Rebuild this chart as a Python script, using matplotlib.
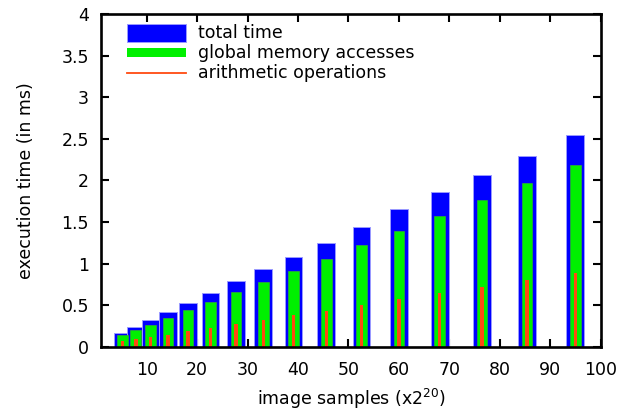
#!/usr/bin/env python3
"""
执行时间柱状图 (total / global memory / arithmetic)
"""

import matplotlib
matplotlib.use('Agg')
import matplotlib.pyplot as plt
from matplotlib.patches import Rectangle
from matplotlib.lines import Line2D
from matplotlib.ticker import MultipleLocator, FormatStrFormatter

plt.rcParams['font.family'] = ['DejaVu Sans']
plt.rcParams['font.size'] = 12.5

# 数据 (image samples x2^20, ms)
samples = [5.2, 7.8, 10.7, 14.2, 18.2, 22.6, 27.7, 33.1,
           39.1, 45.6, 52.6, 60.0, 68.1, 76.5, 85.4, 95.0]
total_time = [0.17, 0.235, 0.32, 0.415, 0.53, 0.645, 0.785, 0.93,
              1.08, 1.25, 1.44, 1.65, 1.855, 2.065, 2.29, 2.545]
memory_time = [0.14, 0.20, 0.265, 0.35, 0.44, 0.54, 0.657, 0.774,
               0.912, 1.06, 1.22, 1.39, 1.575, 1.76, 1.967, 2.18]
arith_time = [0.065, 0.089, 0.113, 0.144, 0.185, 0.229, 0.273, 0.325,
              0.377, 0.433, 0.497, 0.57, 0.64, 0.72, 0.80, 0.89]

labels = ['total time', 'global memory accesses', 'arithmetic operations']
BLUE = '#0000ff'
GREEN = '#00f000'
RED = '#ff4a10'

fig = plt.figure(figsize=(6.21, 4.13), dpi=100)
ax = fig.add_axes([0.1634, 0.1605, 0.8036, 0.8056])

ax.bar(samples, total_time, width=3.5, color=BLUE, edgecolor='#9a9aff',
       linewidth=0.7, zorder=1)
ax.bar(samples, memory_time, width=2.1, color=GREEN, edgecolor='#30b030',
       linewidth=0.5, zorder=1.1)
ax.bar(samples, arith_time, width=0.7, color=RED, linewidth=0, zorder=1.2)

ax.set_xlim(1, 100)
ax.set_ylim(0, 4)
ax.xaxis.set_major_locator(MultipleLocator(10))
ax.yaxis.set_major_locator(MultipleLocator(0.5))
ax.yaxis.set_major_formatter(FormatStrFormatter('%g'))
ax.set_axisbelow(True)

ax.tick_params(direction='in', length=6, width=1.5, top=True, right=True,
               labelsize=12.5)
ax.tick_params(axis='x', pad=10)
ax.tick_params(axis='y', pad=9)
for sp in ax.spines.values():
    sp.set_linewidth(1.9)
    sp.set_zorder(3)

ax.set_xlabel('image samples (x2$^{20}$)', labelpad=6)
ax.set_ylabel('execution time (in ms)', labelpad=19)

# 图例 (手动绘制)
x0, x1 = 0.051, 0.169
ax.add_patch(Rectangle((x0, 0.9167), x1 - x0, 0.053, transform=ax.transAxes,
                       facecolor=BLUE, edgecolor='#9a9aff', linewidth=0.7,
                       zorder=4))
ax.add_patch(Rectangle((x0, 0.870), x1 - x0, 0.027, transform=ax.transAxes,
                       facecolor=GREEN, edgecolor='none', zorder=4))
ax.add_line(Line2D([x0, x1], [0.822, 0.822], transform=ax.transAxes,
                   color=RED, linewidth=1.3, zorder=4))
for yy, txt in zip([0.944, 0.884, 0.823], labels):
    ax.text(0.193, yy, txt, transform=ax.transAxes, va='center', ha='left',
            fontsize=12.5, zorder=4)

fig.savefig('out.png', dpi=100)
